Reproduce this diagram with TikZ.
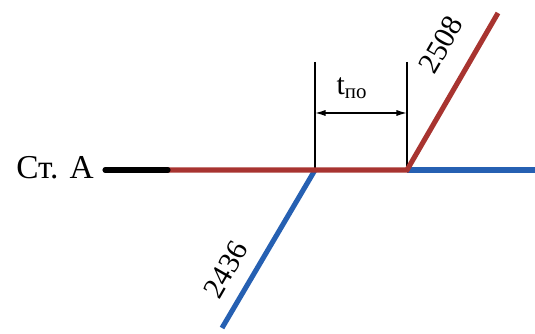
\documentclass[tikz,border=0pt]{standalone}
\usepackage{fontspec}
\setmainfont{Liberation Serif}
\usetikzlibrary{arrows.meta,positioning}
\definecolor{trk}{RGB}{168,52,48}
\definecolor{tro}{RGB}{38,96,178}

\begin{document}
\begin{tikzpicture}[x=0.02cm,y=0.02cm,
  thk/.style={line width=2.9pt},
  thn/.style={black,line width=0.8pt},
  lbl/.style={font=\fontsize{19}{21}\selectfont,inner sep=0pt},
  num/.style={font=\fontsize{17}{19}\selectfont,inner sep=0pt,rotate=60}]
\useasboundingbox (0,0) rectangle (535,334);
\node[lbl] (st) at (55,166) {Ст. А};
\coordinate (p0) at (105,164);
\coordinate (p1) at (168,164);
\coordinate (p2) at (315,164);
\coordinate (p3) at (407,164);
\coordinate (p4) at (535,164);
\coordinate (rt) at (498,321);
\coordinate (bt) at (222,6);
\coordinate (k1) at (315,272);
\coordinate (k2) at (407,272);
% трассы
\draw[thk,tro] (p3)--(p4);
\draw[thk,tro] (bt)--(p2);
\draw[thn] (k1)--(p2); \draw[thn] (k2)--(p3);
\draw[thk,trk] (p1)--(p3)--(rt);
\draw[thk,black,line cap=round] (p0)--(p1);
% интервал
\coordinate (a1) at (315,221); \coordinate (a2) at (407,221);
\draw[thn,{Latex[length=6pt,width=3.5pt]}-{Latex[length=6pt,width=3.5pt]}] (a1)--(a2);
\node[font=\fontsize{17}{19}\selectfont,inner sep=0pt] (tpo) at (352,246) {t\textsubscript{по}};
\node[num] (n2508) at (441,289) {2508};
\node[num] (n2436) at (226,64) {2436};
\end{tikzpicture}
\end{document}
